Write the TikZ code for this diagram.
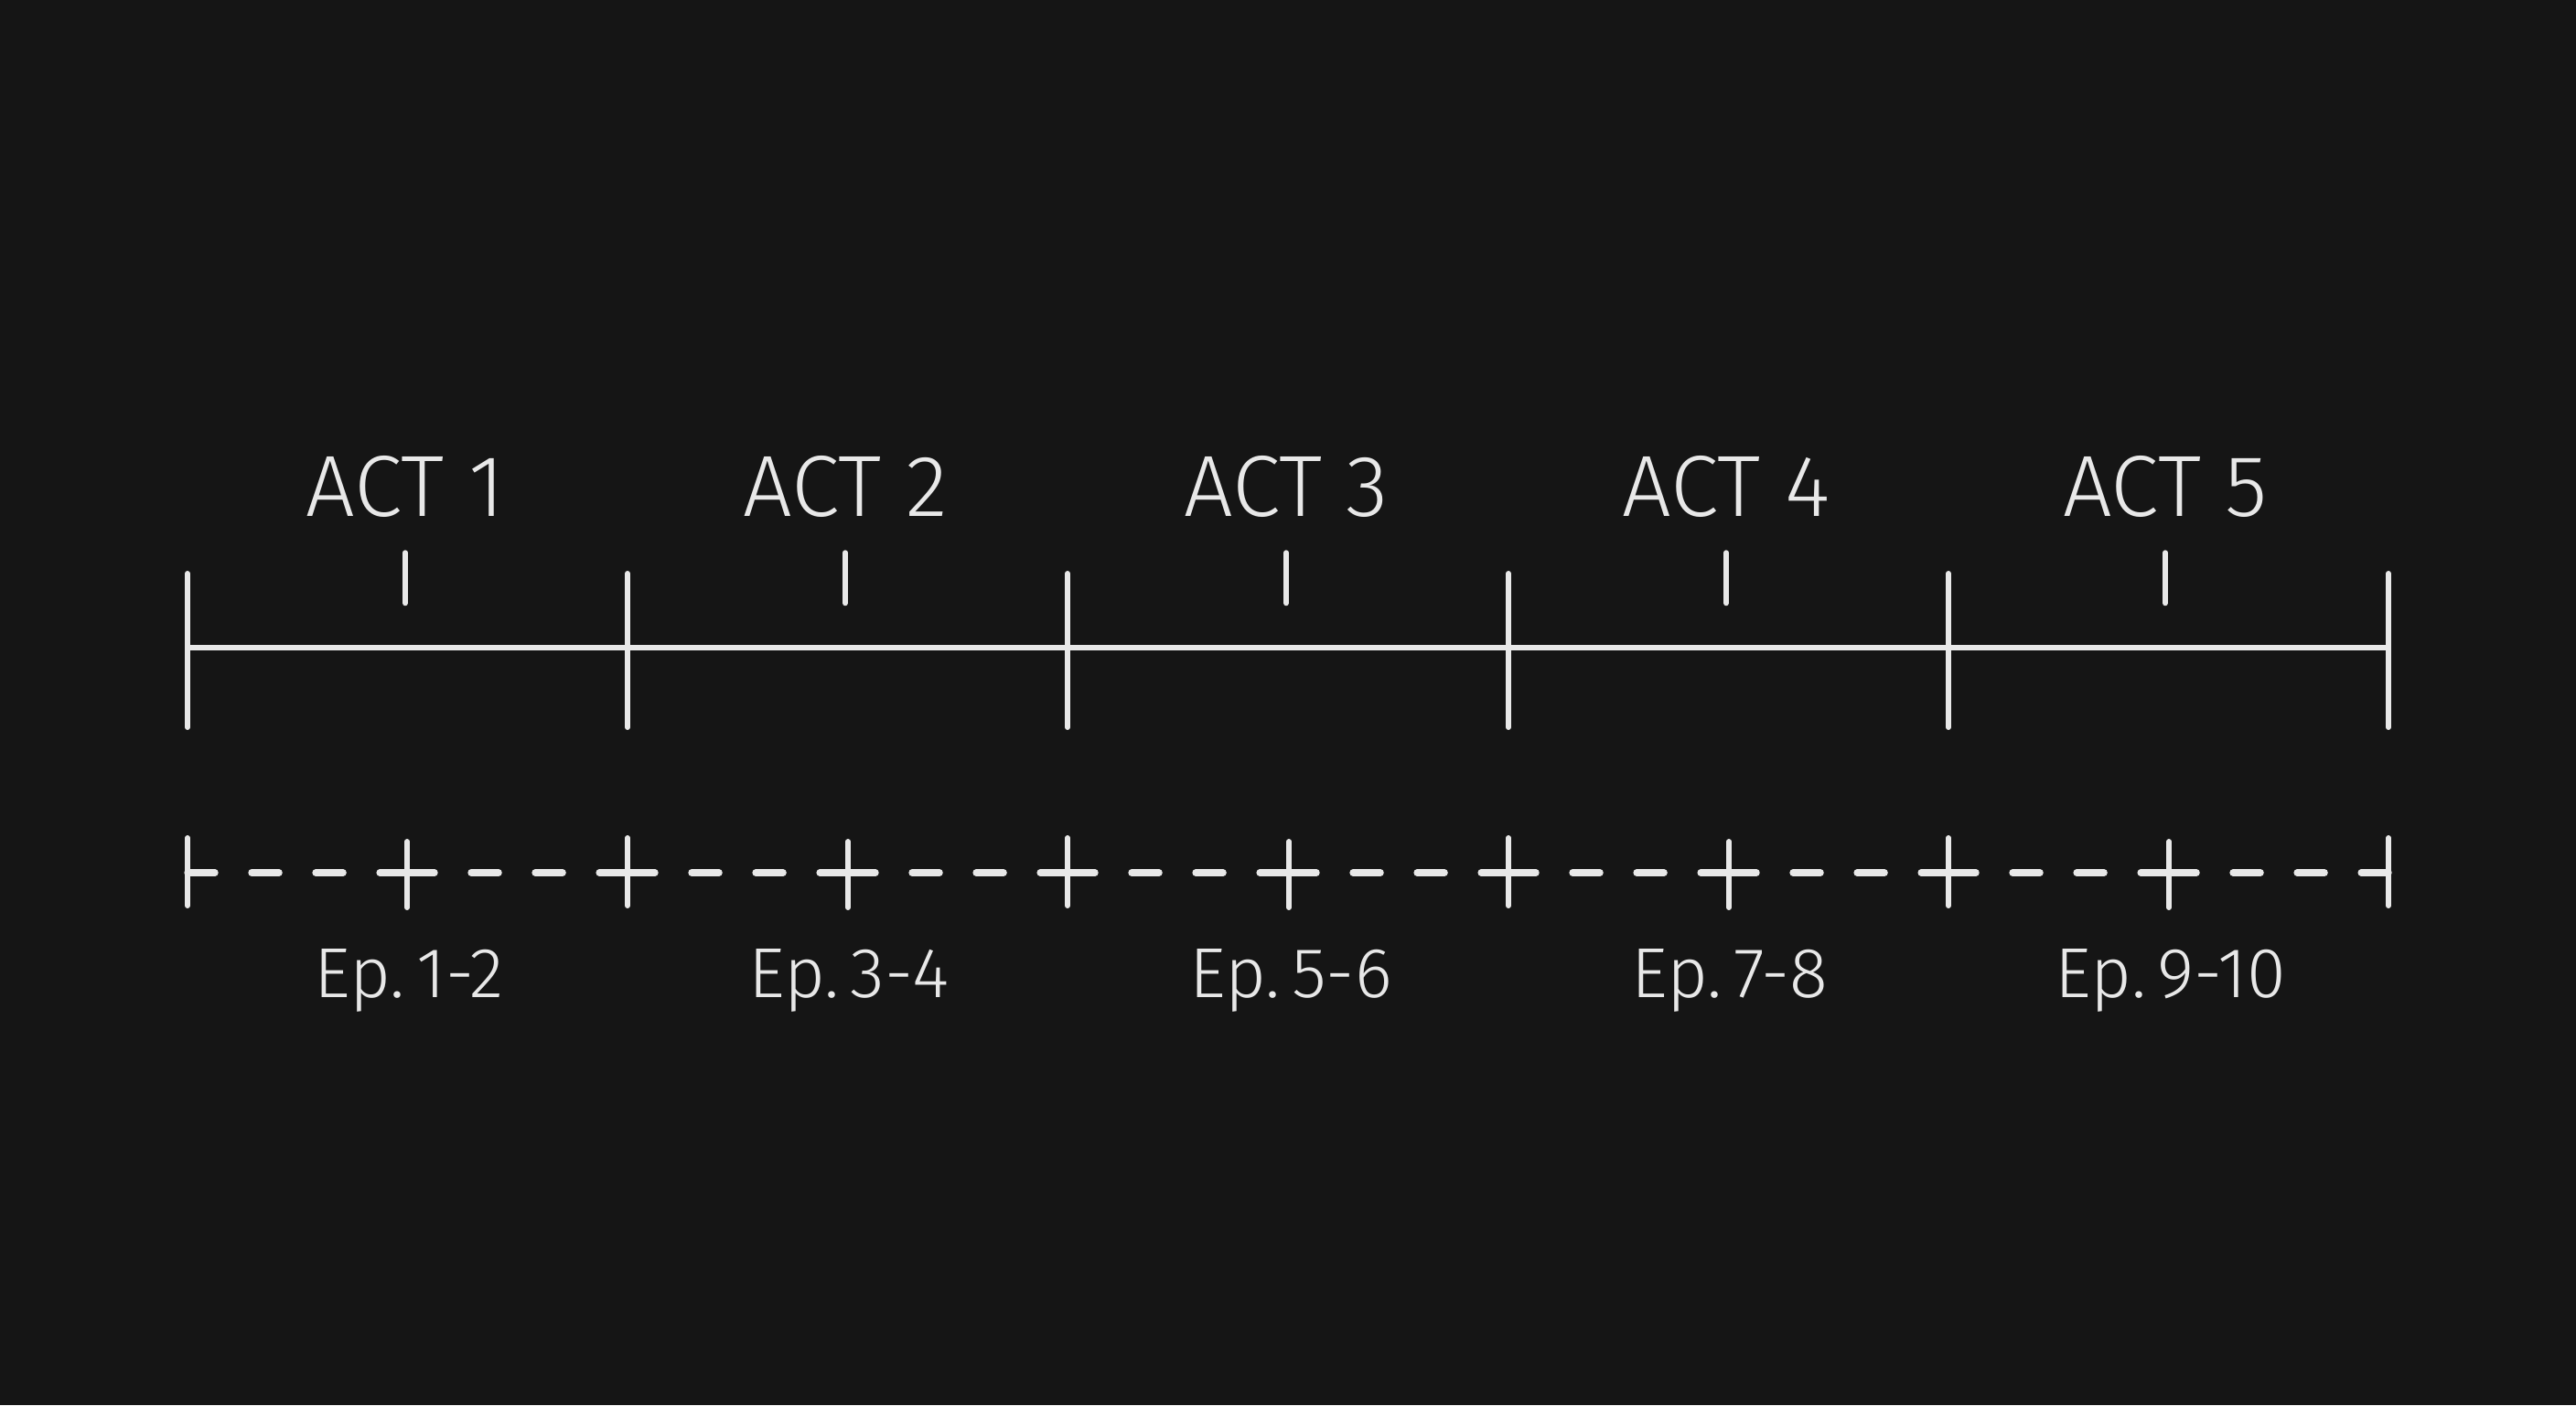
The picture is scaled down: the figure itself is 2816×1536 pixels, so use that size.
\documentclass[tikz,border=0pt]{standalone}
\usepackage{fontspec}
\setmainfont{Fira Sans Light}
\definecolor{board}{HTML}{151515}
\definecolor{chalk}{HTML}{E8E8E8}
\tikzstyle{line}=[draw=chalk, line width=1.5pt, line cap=round]
\tikzstyle{tick}=[draw=chalk, line width=1.7pt, line cap=round]
\tikzstyle{dashes}=[draw=chalk, line width=2.1pt, dash pattern=on 0.3cm off 0.4cm]
\tikzstyle{act}=[text=chalk, inner sep=0pt, font=\fontsize{27}{30}\selectfont]
\tikzstyle{ep}=[text=chalk, inner sep=0pt, font=\fontsize{22}{26}\selectfont]
\newcommand{\tickpt}{\coordinate}

\begin{document}
\begin{tikzpicture}[x=0.01cm, y=-0.01cm, every edge/.style={ line } ]
\fill[board] (0,0) rectangle (2816,1536);
\useasboundingbox (0,0) rectangle (2816,1536);
% act line
\tickpt (m0) at (205,708);
\tickpt (m1) at (686,708);
\tickpt (m2) at (1167,708);
\tickpt (m3) at (1649,708);
\tickpt (m4) at (2130,708);
\tickpt (m5) at (2611,708);
\path (m0) edge (m5);
\foreach \i in {0,...,5} \draw[tick] (m\i) ++(0,-81) -- ++(0,168);
% act labels
\node[act] (a1) at (443,532) {ACT 1};
\node[act] (a2) at (924,532) {ACT 2};
\node[act] (a3) at (1406,532) {ACT 3};
\node[act] (a4) at (1887,532) {ACT 4};
\node[act] (a5) at (2367,532) {ACT 5};
\foreach \i in {1,...,5} \draw[tick] (a\i.south) ++(0,38) -- ++(0,55);
% episode line
\tickpt (d0) at (205,954);
\tickpt (d1) at (686,954);
\tickpt (d2) at (1167,954);
\tickpt (d3) at (1649,954);
\tickpt (d4) at (2130,954);
\tickpt (d5) at (2611,954);
\tickpt (h1) at (445,954);
\tickpt (h2) at (927,954);
\tickpt (h3) at (1409,954);
\tickpt (h4) at (1890,954);
\tickpt (h5) at (2371,954);
\path
(d0) edge[dashes] (h1) (h1) edge[dashes] (d1)
(d1) edge[dashes] (h2) (h2) edge[dashes] (d2)
(d2) edge[dashes] (h3) (h3) edge[dashes] (d3)
(d3) edge[dashes] (h4) (h4) edge[dashes] (d4)
(d4) edge[dashes] (h5) (h5) edge[dashes] (d5)
;
\foreach \i in {0,...,5} \draw[tick] (d\i) ++(0,-38) -- ++(0,74);
\foreach \i in {1,...,5} \draw[tick] (h\i) ++(0,-34) -- ++(0,72);
% episode labels
\node[ep] (e1) at (447,1072) {Ep.\,1-2};
\node[ep] (e2) at (928,1072) {Ep.\,3-4};
\node[ep] (e3) at (1411,1072) {Ep.\,5-6};
\node[ep] (e4) at (1891,1072) {Ep.\,7-8};
\node[ep] (e5) at (2373,1072) {Ep.\,9-10};
\end{tikzpicture}
\end{document}
